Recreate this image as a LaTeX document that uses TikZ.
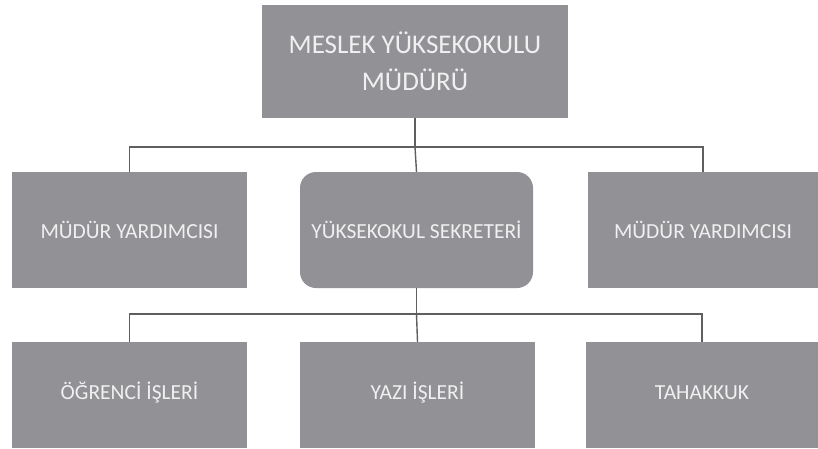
\documentclass[tikz,border=0pt]{standalone}
\usepackage{fontspec}
\setmainfont{Carlito}
\definecolor{boxgray}{RGB}{146,146,150}
\definecolor{linegray}{RGB}{95,95,95}
\definecolor{txtwhite}{RGB}{240,240,240}
\begin{document}
\begin{tikzpicture}[x=1pt,y=-1pt,
  box/.style={fill=boxgray, draw=none, text=txtwhite, align=center, inner sep=0pt},
  small/.style={font=\fontsize{21.5}{25}\selectfont},
  low/.style={text height=16pt, text depth=8pt},
  conn/.style={draw=linegray, line width=1.4pt}]
\useasboundingbox (0,0) rectangle (818,448);
\node[box, minimum width=306pt, minimum height=113pt, font=\fontsize{27}{37}\selectfont] (top) at (415,61.5) {MESLEK YÜKSEKOKULU\\MÜDÜRÜ};
\node[box, small, minimum width=235pt, minimum height=116pt] (l2) at (129.5,230) {MÜDÜR YARDIMCISI};
\node[box, small, rounded corners=16pt, minimum width=233pt, minimum height=116pt] (m2) at (416.5,230) {YÜKSEKOKUL SEKRETERİ};
\node[box, small, minimum width=230pt, minimum height=116pt] (r2) at (703,230) {MÜDÜR YARDIMCISI};
\node[box, small, low, minimum width=235pt, minimum height=106pt] (l3) at (129.5,395) {ÖĞRENCİ İŞLERİ};
\node[box, small, low, minimum width=235pt, minimum height=106pt] (m3) at (417.5,395) {YAZI İŞLERİ};
\node[box, small, low, minimum width=232pt, minimum height=106pt] (r3) at (702,395) {TAHAKKUK};
% level 1 connectors
\coordinate (bus1) at (415,147);
\draw[conn] (top.south) -- (bus1);
\draw[conn] (bus1) -- (m2.north);
\draw[conn] (bus1) -| (l2.north);
\draw[conn] (bus1) -| (r2.north);
% level 2 connectors
\coordinate (bus2) at (416.5,314);
\draw[conn] (m2.south) -- (bus2);
\draw[conn] (bus2) -- (m3.north);
\draw[conn] (bus2) -| (l3.north);
\draw[conn] (bus2) -| (r3.north);
\end{tikzpicture}
\end{document}
